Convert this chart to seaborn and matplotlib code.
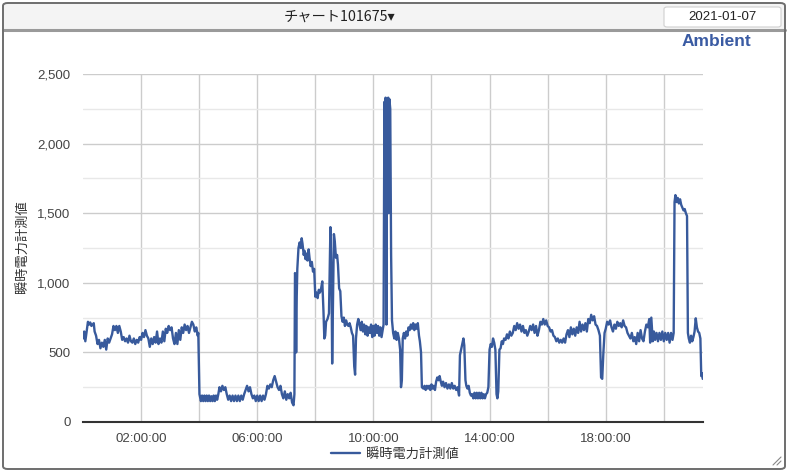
import matplotlib
matplotlib.use("Agg")
import matplotlib.pyplot as plt
import matplotlib.ticker as mticker
from matplotlib.patches import FancyBboxPatch, Rectangle
from matplotlib.lines import Line2D
import seaborn as sns
import pandas as pd

# ---- data (time of day in hours, instantaneous power) ----
hours = [
    0.00, 0.04, 0.08, 0.12, 0.17, 0.21, 0.25, 0.29, 0.33, 0.37, 0.40, 0.45, 0.50, 0.55, 0.60, 0.65,
    0.70, 0.75, 0.80, 0.85, 0.90, 0.95, 1.00, 1.05, 1.10, 1.15, 1.20, 1.25, 1.30, 1.35, 1.40, 1.45,
    1.50, 1.55, 1.60, 1.65, 1.70, 1.75, 1.80, 1.85, 1.90, 1.95, 2.00, 2.05, 2.10, 2.15, 2.20, 2.25,
    2.30, 2.35, 2.40, 2.45, 2.50, 2.55, 2.60, 2.65, 2.70, 2.75, 2.80, 2.85, 2.90, 2.95, 3.00, 3.05,
    3.10, 3.15, 3.20, 3.25, 3.30, 3.35, 3.40, 3.45, 3.50, 3.55, 3.60, 3.65, 3.70, 3.75, 3.80, 3.85,
    3.90, 3.95, 3.97, 4.01, 4.02, 4.06, 4.10, 4.14, 4.18, 4.22, 4.26, 4.30, 4.34, 4.38, 4.42, 4.46,
    4.50, 4.54, 4.58, 4.62, 4.66, 4.70, 4.75, 4.80, 4.85, 4.90, 4.95, 5.00, 5.05, 5.10, 5.15, 5.20,
    5.25, 5.30, 5.35, 5.40, 5.45, 5.50, 5.55, 5.60, 5.65, 5.70, 5.75, 5.80, 5.85, 5.90, 5.95, 6.00,
    6.05, 6.10, 6.15, 6.20, 6.25, 6.30, 6.35, 6.40, 6.45, 6.50, 6.55, 6.60, 6.65, 6.70, 6.75, 6.80,
    6.85, 6.90, 6.95, 7.00, 7.05, 7.10, 7.15, 7.20, 7.25, 7.28, 7.30, 7.32, 7.34, 7.36, 7.38, 7.42,
    7.46, 7.50, 7.53, 7.56, 7.60, 7.63, 7.66, 7.70, 7.73, 7.77, 7.80, 7.84, 7.88, 7.92, 7.96, 8.00,
    8.04, 8.08, 8.12, 8.16, 8.20, 8.24, 8.28, 8.31, 8.34, 8.37, 8.42, 8.47, 8.52, 8.56, 8.58, 8.61,
    8.64, 8.67, 8.71, 8.75, 8.78, 8.82, 8.86, 8.90, 8.94, 8.98, 9.02, 9.06, 9.10, 9.14, 9.18, 9.22,
    9.26, 9.30, 9.34, 9.37, 9.40, 9.44, 9.48, 9.52, 9.56, 9.60, 9.64, 9.68, 9.72, 9.76, 9.80, 9.84,
    9.88, 9.92, 9.96, 10.00, 10.04, 10.08, 10.12, 10.16, 10.20, 10.24, 10.28, 10.32, 10.35, 10.38,
    10.40, 10.42, 10.45, 10.47, 10.49, 10.51, 10.53, 10.55, 10.58, 10.61, 10.64, 10.68, 10.72, 10.76,
    10.80, 10.84, 10.88, 10.92, 10.95, 10.98, 11.01, 11.05, 11.09, 11.13, 11.17, 11.21, 11.25, 11.29,
    11.33, 11.37, 11.41, 11.45, 11.49, 11.53, 11.57, 11.60, 11.64, 11.67, 11.72, 11.76, 11.80, 11.84,
    11.88, 11.92, 11.96, 12.00, 12.04, 12.08, 12.12, 12.16, 12.20, 12.24, 12.28, 12.32, 12.36, 12.40,
    12.45, 12.50, 12.55, 12.60, 12.65, 12.70, 12.75, 12.80, 12.85, 12.90, 12.95, 12.98, 13.02, 13.06,
    13.10, 13.13, 13.17, 13.20, 13.24, 13.28, 13.32, 13.36, 13.40, 13.44, 13.48, 13.52, 13.56, 13.60,
    13.64, 13.68, 13.72, 13.76, 13.80, 13.84, 13.88, 13.92, 13.96, 14.00, 14.04, 14.08, 14.12, 14.16,
    14.20, 14.24, 14.27, 14.30, 14.34, 14.38, 14.42, 14.46, 14.50, 14.55, 14.60, 14.65, 14.70, 14.75,
    14.80, 14.85, 14.90, 14.95, 15.00, 15.05, 15.10, 15.15, 15.20, 15.25, 15.30, 15.35, 15.40, 15.45,
    15.50, 15.55, 15.60, 15.65, 15.70, 15.75, 15.80, 15.85, 15.90, 15.95, 16.00, 16.05, 16.10, 16.15,
    16.20, 16.25, 16.30, 16.35, 16.40, 16.45, 16.50, 16.55, 16.60, 16.65, 16.70, 16.75, 16.80, 16.85,
    16.90, 16.95, 17.00, 17.05, 17.10, 17.15, 17.20, 17.25, 17.30, 17.35, 17.40, 17.45, 17.50, 17.55,
    17.60, 17.65, 17.70, 17.75, 17.80, 17.84, 17.88, 17.92, 17.96, 18.00, 18.05, 18.10, 18.15, 18.20,
    18.25, 18.30, 18.35, 18.40, 18.45, 18.50, 18.55, 18.60, 18.65, 18.70, 18.75, 18.80, 18.85, 18.90,
    18.95, 19.00, 19.05, 19.10, 19.15, 19.20, 19.25, 19.30, 19.35, 19.40, 19.45, 19.50, 19.53, 19.57,
    19.62, 19.66, 19.70, 19.75, 19.80, 19.85, 19.90, 19.95, 20.00, 20.05, 20.10, 20.15, 20.20, 20.25,
    20.30, 20.34, 20.37, 20.40, 20.44, 20.48, 20.52, 20.56, 20.60, 20.64, 20.68, 20.72, 20.76, 20.80,
    20.83, 20.86, 20.90, 20.94, 20.98, 21.02, 21.06, 21.10, 21.14, 21.18, 21.22, 21.26, 21.29, 21.32,
    21.34,
]
power = [
    600, 650, 580, 640, 720, 700, 715, 690, 700, 710, 650, 620, 560, 590, 530, 570,
    540, 590, 520, 600, 570, 600, 630, 690, 660, 690, 640, 690, 650, 590, 610, 580,
    600, 570, 620, 580, 570, 600, 560, 590, 570, 610, 590, 640, 610, 660, 620, 600,
    540, 600, 560, 610, 570, 650, 560, 600, 570, 650, 580, 670, 640, 690, 660, 680,
    600, 560, 640, 560, 660, 590, 680, 640, 700, 660, 690, 640, 680, 720, 700, 650,
    680, 620, 640, 200, 190, 150, 190, 150, 190, 150, 190, 150, 190, 150, 185, 150,
    190, 150, 190, 160, 200, 250, 220, 260, 230, 250, 200, 160, 190, 150, 190, 150,
    190, 150, 190, 150, 190, 160, 200, 230, 260, 220, 250, 200, 170, 190, 150, 190,
    150, 190, 150, 190, 160, 200, 260, 240, 270, 250, 300, 330, 290, 250, 230, 260,
    200, 170, 220, 160, 200, 170, 210, 140, 120, 200, 1070, 1050, 500, 900, 1100, 1250,
    1290, 1250, 1320, 1280, 1200, 1230, 1170, 1210, 1160, 1240, 1180, 1120, 1150, 1080, 1100, 900,
    930, 890, 950, 930, 960, 1010, 800, 600, 620, 720, 740, 780, 1400, 1000, 420, 900,
    1350, 1300, 1180, 1200, 1130, 960, 940, 760, 720, 750, 690, 730, 700, 690, 710, 680,
    640, 620, 400, 340, 600, 700, 740, 700, 660, 720, 650, 700, 630, 690, 620, 680,
    640, 700, 610, 690, 620, 700, 640, 690, 620, 680, 610, 660, 700, 2300,
    1650, 2330, 700, 2310, 2280, 2330, 1500, 2320, 2250, 1200, 730, 640, 600, 650,
    590, 640, 600, 520, 250, 300, 600, 640, 600, 650, 620, 680, 660, 700,
    670, 710, 660, 700, 670, 710, 620, 580, 500, 250, 240, 260, 230, 260,
    240, 260, 230, 270, 240, 260, 230, 290, 320, 300, 330, 290, 260, 290,
    250, 280, 240, 270, 240, 280, 240, 260, 230, 250, 190, 480, 520, 560,
    600, 550, 300, 260, 240, 260, 210, 190, 200, 170, 210, 170, 210, 170,
    210, 170, 210, 170, 200, 170, 200, 210, 250, 520, 560, 540, 600, 570,
    520, 200, 170, 220, 520, 530, 580, 560, 600, 590, 630, 600, 650, 620,
    640, 690, 660, 710, 670, 700, 650, 690, 640, 660, 620, 650, 690, 660,
    700, 640, 690, 620, 660, 720, 700, 740, 700, 730, 690, 680, 650, 660,
    620, 610, 580, 600, 570, 590, 570, 600, 570, 630, 660, 610, 680, 630,
    670, 620, 680, 640, 720, 650, 700, 660, 710, 650, 740, 710, 770, 730,
    760, 700, 690, 660, 620, 320, 310, 500, 640, 670, 720, 700, 730, 680,
    650, 700, 670, 720, 690, 710, 680, 730, 690, 680, 640, 620, 600, 640,
    580, 610, 560, 640, 580, 660, 600, 580, 650, 700, 680, 740, 570, 750,
    580, 650, 590, 640, 580, 640, 590, 650, 580, 640, 590, 640, 570, 640,
    590, 640, 1580, 1630, 1580, 1610, 1570, 1600, 1560, 1540, 1520, 1530, 1500, 1480,
    640, 600, 570, 620, 580, 610, 650, 745, 680, 650, 640, 600, 330, 350,
    310,
]
series_name = "瞬時電力計測値"
chart_title = "チャート101675"
date_label = "2021-01-07"
y_ticks = [0, 500, 1000, 1500, 2000, 2500]

df = pd.DataFrame({"hour": hours, "value": power})

# ---- style ----
sns.set_style("white")
plt.rcParams["font.family"] = ["Liberation Sans", "Noto Sans CJK JP", "DejaVu Sans"]
CJK = ["Noto Sans CJK JP", "DejaVu Sans"]
LINE = "#385a9c"

W, H = 789, 474
fig = plt.figure(figsize=(W / 100, H / 100), dpi=100)
fig.patch.set_facecolor("white")

def fx(px):
    return px / W

def fy(py):
    return 1 - py / H

# outer frame and header bar
fig.add_artist(Rectangle((fx(3), fy(29)), fx(782), 26 / H, transform=fig.transFigure,
                         facecolor="#f4f4f4", edgecolor="none", zorder=0))
fig.add_artist(Line2D([fx(3), fx(785)], [fy(29.5), fy(29.5)], transform=fig.transFigure,
                      color="#9a9a9a", lw=2.2, zorder=1))
fig.add_artist(FancyBboxPatch((fx(3), fy(469)), fx(782), 466 / H,
                              boxstyle="round,pad=0,rounding_size=0.006",
                              transform=fig.transFigure, facecolor="none",
                              edgecolor="#6e6e6e", lw=1.4, zorder=2))
# date box
fig.add_artist(FancyBboxPatch((fx(664), fy(27)), fx(117), 20 / H,
                              boxstyle="round,pad=0,rounding_size=0.004",
                              transform=fig.transFigure, facecolor="white",
                              edgecolor="#cfcfcf", lw=0.8, zorder=3))
fig.text(fx(722), fy(17), date_label, ha="center", va="center", fontsize=9.5,
         color="#222222", zorder=4)
fig.text(fx(340), fy(16.5), chart_title + "▾", ha="center", va="center", fontsize=10.3,
         color="#222222", family=CJK)
fig.text(fx(751), fy(42), "Ambient", ha="right", va="center", fontsize=12.5,
         fontweight="bold", color="#3a5ba3")
# resize grip
for d in (4, 8):
    fig.add_artist(Line2D([fx(781 - d), fx(781)], [fy(465), fy(465 - d)],
                          transform=fig.transFigure, color="#888888", lw=0.8))

# ---- main axes ----
ax = fig.add_axes([fx(83), fy(422), fx(703 - 83), (422 - 74) / H])
sns.lineplot(data=df, x="hour", y="value", ax=ax, color=LINE, linewidth=1.7,
             estimator=None, label=series_name, zorder=3)

ax.set_xlim(0, 21.35)
ax.set_ylim(0, 2500)
ax.set_xlabel("")
ax.set_ylabel("")

ax.yaxis.set_major_locator(mticker.FixedLocator(y_ticks))
ax.yaxis.set_minor_locator(mticker.MultipleLocator(250))
ax.yaxis.set_major_formatter(mticker.FuncFormatter(lambda v, p: f"{int(v):,}"))
ax.xaxis.set_major_locator(mticker.FixedLocator(list(range(2, 22, 2))))
ax.xaxis.set_minor_locator(mticker.FixedLocator(list(range(1, 22, 2))))
ax.xaxis.set_major_formatter(mticker.FuncFormatter(
    lambda v, p: f"{int(round(v)):02d}:00:00" if int(round(v)) % 4 == 2 else ""))

ax.grid(which="major", axis="both", color="#cccccc", lw=1.0, zorder=0)
ax.grid(which="minor", axis="y", color="#e8e8e8", lw=1.0, zorder=0)
ax.set_axisbelow(True)

for s in ("left", "right", "top"):
    ax.spines[s].set_visible(False)
ax.spines["bottom"].set_color("#333333")
ax.spines["bottom"].set_linewidth(1.5)

ax.tick_params(axis="y", which="both", length=0, pad=9, labelsize=9.5, labelcolor="#444444")
ax.tick_params(axis="x", which="both", length=4, width=0.8, color="#aaaaaa", pad=4,
               labelsize=9.5, labelcolor="#444444")

fig.text(fx(22), fy(247), series_name, rotation=90, ha="center", va="center",
         fontsize=9.5, color="#333333", family=CJK)

leg = ax.legend(loc="center", bbox_to_anchor=(fx(395), fy(454)),
                bbox_transform=fig.transFigure, frameon=False,
                handlelength=2.2, handletextpad=0.5, prop={"family": CJK, "size": 9.5})
for t in leg.get_texts():
    t.set_color("#333333")

fig.savefig("out.png", dpi=100)
